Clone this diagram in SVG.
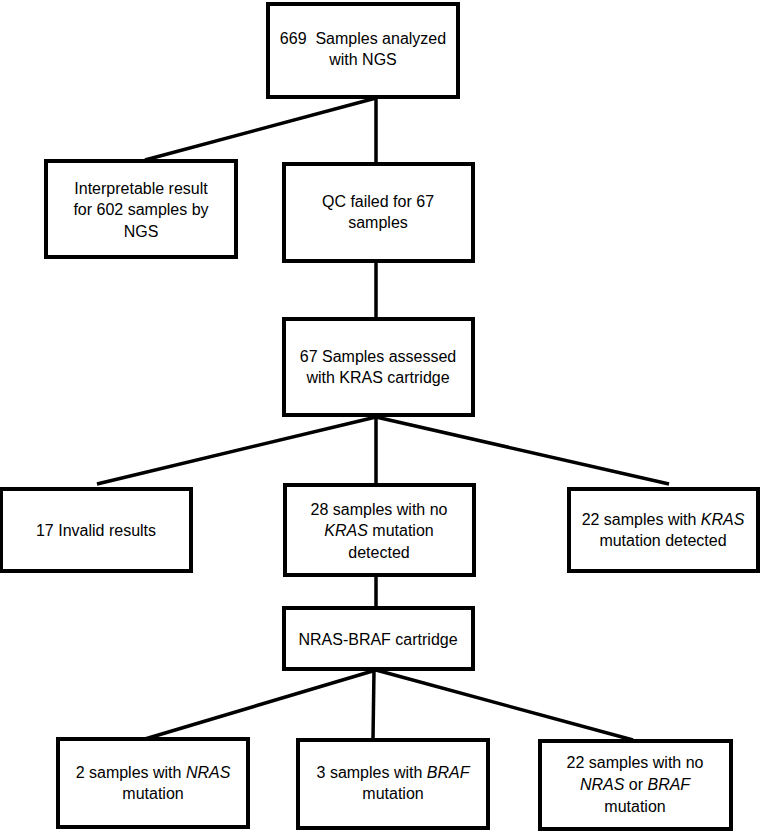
<svg xmlns="http://www.w3.org/2000/svg" width="760" height="832" viewBox="0 0 760 832">
<style>
.box{fill:#fff;stroke:#000;stroke-width:4}
.ln{stroke:#000;stroke-width:3.5;fill:none}
text{font-family:"Liberation Sans",Arial,sans-serif;font-size:16px;fill:#000;text-anchor:middle}
.i{font-style:italic}
</style>
<rect width="760" height="832" fill="#fff"/>
<g id="connectors">
<line class="ln" x1="376" y1="98" x2="145" y2="160"/>
<line class="ln" x1="376" y1="98" x2="376" y2="163"/>
<line class="ln" x1="376" y1="261" x2="376" y2="319"/>
<line class="ln" x1="376" y1="417" x2="97" y2="484"/>
<line class="ln" x1="376" y1="417" x2="376" y2="485"/>
<line class="ln" x1="376" y1="417" x2="669" y2="484"/>
<line class="ln" x1="376" y1="575" x2="376" y2="608"/>
<line class="ln" x1="376" y1="670" x2="145" y2="739"/>
<line class="ln" x1="374" y1="670" x2="373" y2="739"/>
<line class="ln" x1="376" y1="670" x2="633" y2="740"/>
</g>
<g id="n1"><rect class="box" x="268" y="4" width="190" height="93"/>
<text x="363" y="44">669&#160; Samples analyzed</text><text x="363" y="65">with NGS</text></g>
<g id="n2"><rect class="box" x="46" y="161" width="190" height="96"/>
<text x="141" y="194">Interpretable result</text><text x="141" y="215">for 602 samples by</text><text x="141" y="237">NGS</text></g>
<g id="n3"><rect class="box" x="284" y="164" width="189" height="97"/>
<text x="378" y="207">QC failed for 67</text><text x="378" y="228">samples</text></g>
<g id="n4"><rect class="box" x="284" y="319" width="189" height="96"/>
<text x="378" y="362">67 Samples assessed</text><text x="378" y="383">with KRAS cartridge</text></g>
<g id="n5"><rect class="box" x="1" y="489" width="190" height="82"/>
<text x="96" y="536">17 Invalid results</text></g>
<g id="n6"><rect class="box" x="285" y="485" width="189" height="90"/>
<text x="379" y="515">28 samples with no</text><text x="379" y="536"><tspan class="i">KRAS</tspan> mutation</text><text x="379" y="558">detected</text></g>
<g id="n7"><rect class="box" x="569" y="489" width="189" height="82"/>
<text x="663" y="525">22 samples with <tspan class="i">KRAS</tspan></text><text x="663" y="546">mutation detected</text></g>
<g id="n8"><rect class="box" x="284" y="608" width="189" height="61"/>
<text x="378" y="645">NRAS-BRAF cartridge</text></g>
<g id="n9"><rect class="box" x="58" y="739" width="190" height="88"/>
<text x="153" y="778">2 samples with <tspan class="i">NRAS</tspan></text><text x="153" y="799">mutation</text></g>
<g id="n10"><rect class="box" x="298" y="740" width="190" height="88"/>
<text x="393" y="778">3 samples with <tspan class="i">BRAF</tspan></text><text x="393" y="799">mutation</text></g>
<g id="n11"><rect class="box" x="540" y="741" width="191" height="88"/>
<text x="635" y="768">22 samples with no</text><text x="635" y="790"><tspan class="i">NRAS</tspan> or <tspan class="i">BRAF</tspan></text><text x="635" y="812">mutation</text></g>
</svg>
